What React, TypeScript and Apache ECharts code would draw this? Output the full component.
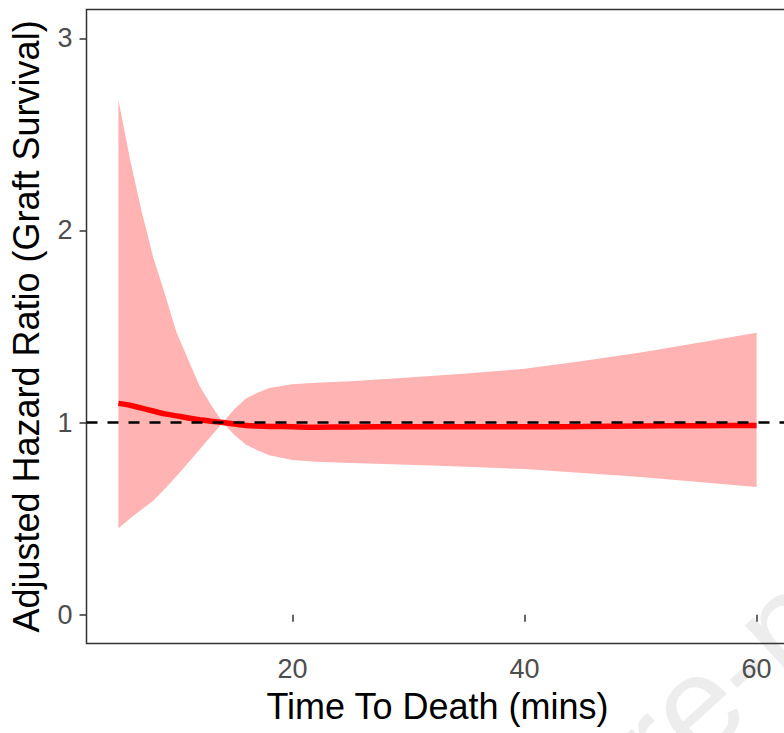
import React, { useEffect, useRef } from "react";
import * as echarts from "echarts";

// Time to death (mins)
const times = [5, 6, 7, 8, 9, 10, 11, 12, 13, 14, 15, 16, 17, 18, 20, 22, 25, 30, 35, 40, 45, 50, 55, 60];
// Adjusted hazard ratio (fitted)
const hazard = [1.1, 1.09, 1.075, 1.06, 1.045, 1.035, 1.024, 1.015, 1.007, 1.0, 0.992, 0.985, 0.982, 0.98, 0.978, 0.976, 0.977, 0.978, 0.978, 0.978, 0.979, 0.982, 0.984, 0.985];
// Confidence band
const upper = [2.68, 2.37, 2.1, 1.86, 1.67, 1.47, 1.33, 1.19, 1.09, 1.0, 1.07, 1.125, 1.155, 1.18, 1.2, 1.207, 1.215, 1.235, 1.255, 1.28, 1.32, 1.365, 1.415, 1.468];
const lower = [0.45, 0.5, 0.547, 0.593, 0.655, 0.72, 0.79, 0.86, 0.93, 1.0, 0.935, 0.885, 0.855, 0.83, 0.805, 0.796, 0.79, 0.78, 0.77, 0.758, 0.738, 0.717, 0.69, 0.665];
const referenceLevel = 1;
const xTicks = [20, 40, 60];
const yTicks = [0, 1, 2, 3];
const xRange = [2.25, 62.75];
const yRange = [-0.15, 3.15];

const FONT = "'Liberation Sans', Arial, sans-serif";

export default function App() {
  const ref = useRef<HTMLDivElement>(null);
  useEffect(() => {
    if (!ref.current) return;
    const chart = echarts.init(ref.current, undefined, { renderer: "svg" });
    const bandData = times.map((t, i) => [t, lower[i], upper[i]]);
    const lineData = times.map((t, i) => [t, hazard[i]]);
    chart.setOption({
      animation: false,
      backgroundColor: "#ffffff",
      grid: {
        left: 86.5,
        top: 9.5,
        width: 702,
        height: 634,
        show: true,
        borderColor: "#333333",
        borderWidth: 1.5,
        backgroundColor: "transparent",
        containLabel: false,
        outerBoundsMode: "none",
      },
      xAxis: {
        type: "value",
        min: xRange[0],
        max: xRange[1],
        name: "Time To Death (mins)",
        nameLocation: "middle",
        nameGap: 45,
        nameTextStyle: { fontFamily: FONT, fontSize: 36, color: "#000000" },
        axisLine: { show: false },
        splitLine: { show: false },
        axisTick: {
          show: true,
          length: 7,
          customValues: xTicks,
          lineStyle: { color: "#333333", width: 1.5 },
        },
        axisLabel: {
          customValues: xTicks,
          fontFamily: FONT,
          fontSize: 27,
          color: "#4D4D4D",
          margin: 12,
        },
      },
      yAxis: {
        type: "value",
        min: yRange[0],
        max: yRange[1],
        name: "Adjusted Hazard Ratio (Graft Survival)",
        nameLocation: "middle",
        nameGap: 42,
        nameTextStyle: { fontFamily: FONT, fontSize: 36, color: "#000000" },
        axisLine: { show: false },
        splitLine: { show: false },
        axisTick: {
          show: true,
          length: 7,
          customValues: yTicks,
          lineStyle: { color: "#333333", width: 1.5 },
        },
        axisLabel: {
          customValues: yTicks,
          fontFamily: FONT,
          fontSize: 27,
          color: "#4D4D4D",
          margin: 14,
        },
      },
      graphic: [
        {
          type: "text",
          x: 258,
          y: 1195,
          rotation: 0.74,
          silent: true,
          z: -10,
          style: {
            text: "Journal Pre-proof",
            fontFamily: FONT,
            fontSize: 135,
            fill: "#ededed",
            textAlign: "left",
            textVerticalAlign: "bottom",
          },
        },
      ],
      series: [
        {
          type: "custom",
          data: bandData,
          silent: true,
          z: 1,
          encode: { x: 0, y: [1, 2] },
          renderItem: (params: any, api: any) => {
            if (params.dataIndex !== 0) return null;
            const top = bandData.map((d) => api.coord([d[0], d[2]]));
            const bottom = bandData
              .slice()
              .reverse()
              .map((d) => api.coord([d[0], d[1]]));
            return {
              type: "polygon",
              shape: { points: top.concat(bottom) },
              style: { fill: "#FFB3B3", stroke: "none" },
            };
          },
        },
        {
          type: "line",
          data: lineData,
          symbol: "none",
          smooth: 0.3,
          lineStyle: { color: "#FF0000", width: 5.5 },
          z: 2,
        },
        {
          type: "line",
          data: [
            [xRange[0], referenceLevel],
            [xRange[1], referenceLevel],
          ],
          symbol: "none",
          lineStyle: { color: "#000000", width: 2.5, type: [11, 10] },
          z: 3,
        },
      ],
    });
    return () => chart.dispose();
  }, []);
  return (
    <div
      ref={ref}
      style={{ position: "fixed", left: 0, top: 0, width: 784, height: 733 }}
    />
  );
}
